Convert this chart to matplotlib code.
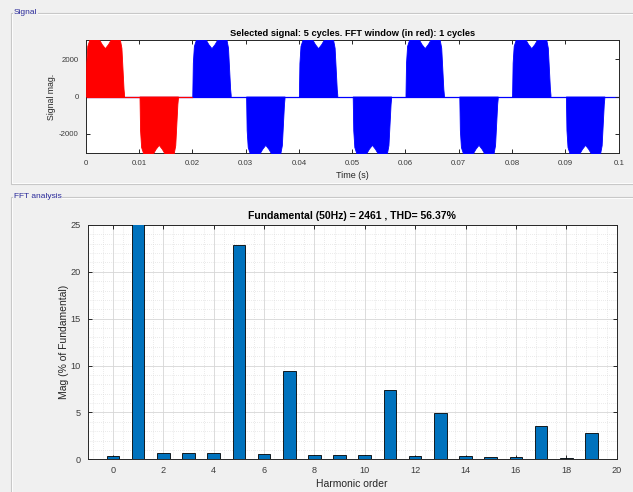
import matplotlib
matplotlib.use("Agg")
import matplotlib.pyplot as plt
from matplotlib.lines import Line2D
from matplotlib.ticker import MultipleLocator

plt.rcParams['font.family'] = ['Liberation Sans', 'DejaVu Sans']
plt.rcParams['axes.unicode_minus'] = False

# signal envelope of one half-cycle pulse (ms, magnitude)
pulse_ms = [0.0, 0.1, 0.3, 0.7, 1.2, 1.8, 2.5, 3.0, 3.6, 4.2, 4.7, 5.3, 5.9, 6.4, 6.7, 6.9, 7.1, 7.2]
pulse_mag = [100, 1800, 2700, 3050, 3200, 3200, 3050, 2800, 2580, 2800, 3050, 3200, 3200, 3050, 2600, 1500, 400, 100]
pos_starts = [0.0, 0.02, 0.04, 0.06, 0.08]
neg_starts = [0.0101, 0.0301, 0.0501, 0.0701, 0.0901]
window_end = 0.02  # FFT window (1 cycle) shown in red

# FFT bars
orders = list(range(20))
mags = [0.35, 100, 0.7, 0.7, 0.7, 22.9, 0.6, 9.4, 0.5, 0.45,
        0.45, 7.4, 0.35, 4.95, 0.3, 0.2, 0.2, 3.6, 0.1, 2.8]

W, H = 633, 492
fig = plt.figure(figsize=(W / 100, H / 100), dpi=100, facecolor='#f0f0f0')


def fx(x):
    return x / W


def fy(y):
    return 1 - y / H


# group box frames
frame_col = '#c8c8c8'
for (x0, y0, x1, y1) in [(10.5, 12.5, 640, 184), (10.5, 197, 640, 500)]:
    fig.add_artist(Line2D([fx(x1), fx(x0), fx(x0), fx(x1)],
                          [fy(y0), fy(y0), fy(y1), fy(y1)],
                          transform=fig.transFigure, color=frame_col, lw=0.8))
    fig.add_artist(Line2D([fx(x1), fx(x0 + 1), fx(x0 + 1), fx(x1)],
                          [fy(y0 + 1), fy(y0 + 1), fy(y1 - 1), fy(y1 - 1)],
                          transform=fig.transFigure, color='white', lw=0.6))
for label, y in [("Signal", 12.5), ("FFT analysis", 197)]:
    fig.text(fx(13.5), fy(y), label, fontsize=6, color='#2a2a9a', va='center', ha='left',
             bbox=dict(facecolor='#f0f0f0', edgecolor='none', pad=0.5))

axis_col = '#262626'
tick_col = '#3c3c3c'

# ---- signal panel
ax1 = fig.add_axes([fx(85.7), fy(152.7), fx(618.7 - 85.7), (152.7 - 40.3) / H])
ax1.set_facecolor('white')
ax1.plot([0, 0.1], [0, 0], color='#0000ff', lw=0.9, zorder=1)
ax1.plot([0, window_end], [0, 0], color='#ff0000', lw=0.9, zorder=2)
for start in pos_starts:
    t = [start + m / 1000 for m in pulse_ms]
    col = '#ff0000' if start < window_end else '#0000ff'
    ax1.fill_between(t, 0, pulse_mag, color=col, lw=0.6, zorder=3)
for start in neg_starts:
    t = [start + m / 1000 for m in pulse_ms]
    col = '#ff0000' if start < window_end else '#0000ff'
    ax1.fill_between(t, 0, [-v for v in pulse_mag], color=col, lw=0.6, zorder=3)
ax1.set_xlim(0, 0.1)
ax1.set_ylim(-3000, 3000)
ax1.set_xticks([i / 100 for i in range(11)])
ax1.set_xticklabels(['0'] + ['%g' % (i / 100) for i in range(1, 11)])
ax1.set_yticks([-2000, 0, 2000])
ax1.set_title('Selected signal: 5 cycles. FFT window (in red): 1 cycles',
              fontsize=6.7, fontweight='bold', color='black', pad=3)
ax1.set_xlabel('Time (s)', fontsize=6.5, color=axis_col, labelpad=3)
ax1.set_ylabel('Signal mag.', fontsize=6.3, color=axis_col, labelpad=2)

# ---- FFT panel
ax2 = fig.add_axes([fx(87.7), fy(459.3), fx(616.7 - 87.7), (459.3 - 225) / H])
ax2.set_facecolor('white')
ax2.bar(orders, mags, width=0.5, color='#0072bd', edgecolor='black', lw=0.6, zorder=3)
ax2.set_xlim(-1, 20)
ax2.set_ylim(0, 25)
ax2.xaxis.set_major_locator(MultipleLocator(2))
ax2.xaxis.set_minor_locator(MultipleLocator(0.4))
ax2.yaxis.set_major_locator(MultipleLocator(5))
ax2.yaxis.set_minor_locator(MultipleLocator(1))
ax2.grid(True, which='major', color='#d6d6d6', lw=0.6, zorder=0)
ax2.grid(True, which='minor', color='#d6d6d6', lw=0.5, ls=(0, (1, 2)), zorder=0)
ax2.set_axisbelow(True)
ax2.set_title('Fundamental (50Hz) = 2461 , THD= 56.37%',
              fontsize=7.5, fontweight='bold', color='black', pad=4)
ax2.set_xlabel('Harmonic order', fontsize=7.5, color=axis_col, labelpad=3)
ax2.set_ylabel('Mag (% of Fundamental)', fontsize=7.5, color=axis_col, labelpad=1)

for ax, ts in ((ax1, 5.7), (ax2, 6.6)):
    for s in ax.spines.values():
        s.set_color(axis_col)
        s.set_linewidth(0.7)
    ax.tick_params(which='major', direction='in', top=True, right=True, length=3,
                   width=0.7, color=axis_col, labelsize=ts, labelcolor=tick_col, pad=5)
    ax.tick_params(which='minor', length=0, top=True, right=True)

fig.savefig('out.png', dpi=100, facecolor=fig.get_facecolor())
